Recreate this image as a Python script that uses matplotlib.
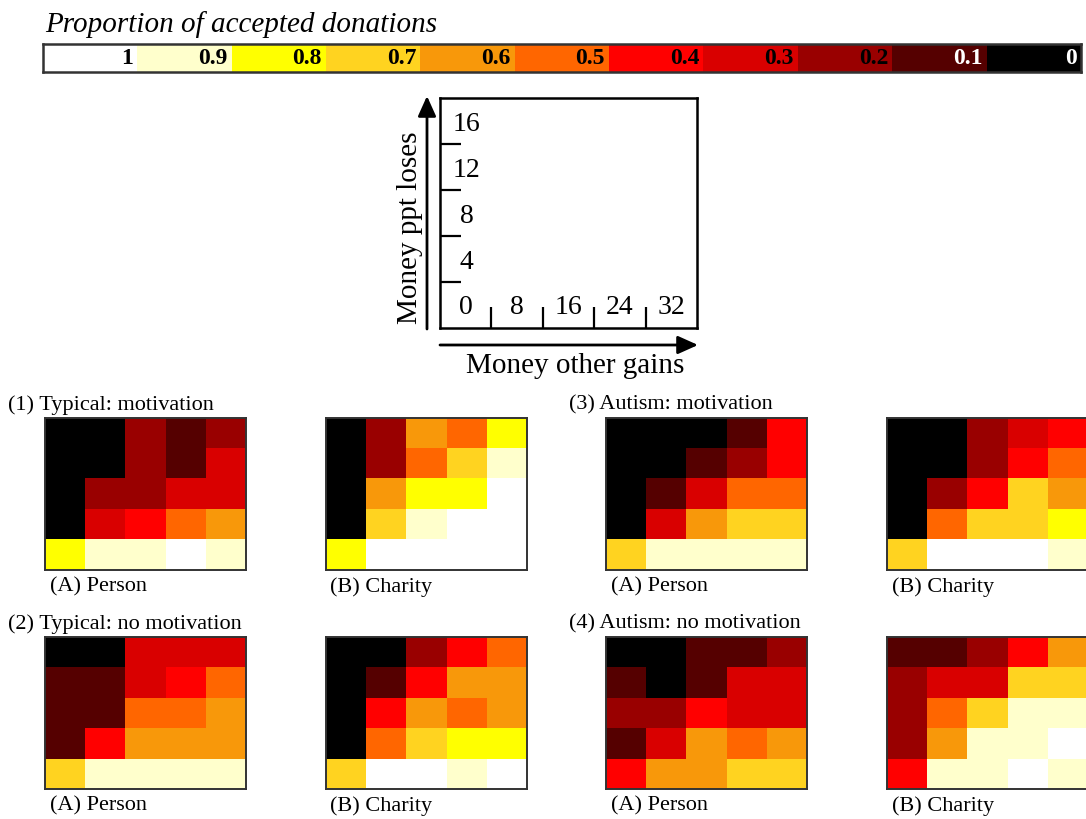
import numpy as np
import matplotlib
matplotlib.use("Agg")
import matplotlib.pyplot as plt
from matplotlib.colors import ListedColormap, BoundaryNorm
from matplotlib.patches import FancyArrowPatch

# --- colour scale (proportion of accepted donations) ---
levels = [0, 0.1, 0.2, 0.3, 0.4, 0.5, 0.6, 0.7, 0.8, 0.9, 1]
level_colors = ["#000000", "#550000", "#990000", "#d90000", "#ff0000", "#ff6600",
                "#f8980a", "#ffd320", "#ffff00", "#ffffcc", "#ffffff"]
bar_labels = ["1", "0.9", "0.8", "0.7", "0.6", "0.5", "0.4", "0.3", "0.2", "0.1", "0"]

# axis schema
gains_ticks = ["0", "8", "16", "24", "32"]
loses_ticks = ["0", "4", "8", "12", "16"]

# --- proportions, rows = money ppt loses (16 at top ... 0 at bottom),
#     cols = money other gains (0 ... 32) ---
typ_mot_person = [[0, 0, 0.2, 0.1, 0.2],
                  [0, 0, 0.2, 0.1, 0.3],
                  [0, 0.2, 0.2, 0.3, 0.3],
                  [0, 0.3, 0.4, 0.5, 0.6],
                  [0.8, 0.9, 0.9, 1, 0.9]]
typ_mot_charity = [[0, 0.2, 0.6, 0.5, 0.8],
                   [0, 0.2, 0.5, 0.7, 0.9],
                   [0, 0.6, 0.8, 0.8, 1],
                   [0, 0.7, 0.9, 1, 1],
                   [0.8, 1, 1, 1, 1]]
typ_nomot_person = [[0, 0, 0.3, 0.3, 0.3],
                    [0.1, 0.1, 0.3, 0.4, 0.5],
                    [0.1, 0.1, 0.5, 0.5, 0.6],
                    [0.1, 0.4, 0.6, 0.6, 0.6],
                    [0.7, 0.9, 0.9, 0.9, 0.9]]
typ_nomot_charity = [[0, 0, 0.2, 0.4, 0.5],
                     [0, 0.1, 0.4, 0.6, 0.6],
                     [0, 0.4, 0.6, 0.5, 0.6],
                     [0, 0.5, 0.7, 0.8, 0.8],
                     [0.7, 1, 1, 0.9, 1]]
aut_mot_person = [[0, 0, 0, 0.1, 0.4],
                  [0, 0, 0.1, 0.2, 0.4],
                  [0, 0.1, 0.3, 0.5, 0.5],
                  [0, 0.3, 0.6, 0.7, 0.7],
                  [0.7, 0.9, 0.9, 0.9, 0.9]]
aut_mot_charity = [[0, 0, 0.2, 0.3, 0.4],
                   [0, 0, 0.2, 0.4, 0.5],
                   [0, 0.2, 0.4, 0.7, 0.6],
                   [0, 0.5, 0.7, 0.7, 0.8],
                   [0.7, 1, 1, 1, 0.9]]
aut_nomot_person = [[0, 0, 0.1, 0.1, 0.2],
                    [0.1, 0, 0.1, 0.3, 0.3],
                    [0.2, 0.2, 0.4, 0.3, 0.3],
                    [0.1, 0.3, 0.6, 0.5, 0.6],
                    [0.4, 0.6, 0.6, 0.7, 0.7]]
aut_nomot_charity = [[0.1, 0.1, 0.2, 0.4, 0.6],
                     [0.2, 0.3, 0.3, 0.7, 0.7],
                     [0.2, 0.5, 0.7, 0.9, 0.9],
                     [0.2, 0.6, 0.9, 0.9, 1],
                     [0.4, 0.9, 0.9, 1, 0.9]]

panel_titles = ["(1) Typical: motivation", "(3) Autism: motivation",
                "(2) Typical: no motivation", "(4) Autism: no motivation"]

plt.rcParams["font.family"] = ["Liberation Serif", "DejaVu Serif"]

W, H = 1086, 819
fig = plt.figure(figsize=(W / 100, H / 100), dpi=100)

cmap = ListedColormap(level_colors)
norm = BoundaryNorm(np.arange(-0.05, 1.1, 0.1), cmap.N)


def px_axes(x0, y0, x1, y1):
    return fig.add_axes([x0 / W, 1 - y1 / H, (x1 - x0) / W, (y1 - y0) / H])


def px_text(x, y, s, **kw):
    fig.text(x / W, 1 - y / H, s, **kw)


def px_arrow(x0, y0, x1, y1):
    fig.add_artist(FancyArrowPatch(
        (x0 / W, 1 - y0 / H), (x1 / W, 1 - y1 / H), transform=fig.transFigure,
        arrowstyle="-|>,head_length=4.9,head_width=2.2", linewidth=2.0,
        color="black", mutation_scale=2.5, shrinkA=0, shrinkB=0))


# --- colour bar ---
bar = px_axes(43, 44, 1081, 72)
bar_vals = np.array(levels[::-1])[None, :]
bar.imshow(bar_vals, cmap=cmap, norm=norm, aspect="auto",
           extent=(0, 11, 0, 1), interpolation="nearest")
for i, lab in enumerate(bar_labels):
    col = "white" if lab in ("0.1", "0") else "black"
    bar.text(i + 0.955, 0.47, lab, ha="right", va="center", fontsize=17,
             fontweight="bold", color=col)
bar.set_xticks([])
bar.set_yticks([])
for sp in bar.spines.values():
    sp.set_linewidth(1.8)
    sp.set_color("#333333")
px_text(45, 25, "Proportion of accepted donations", fontsize=21, style="italic",
        ha="left", va="center")

# --- axis schema ---
sch = px_axes(440, 98, 697, 328)
sch.set_xlim(0, 5)
sch.set_ylim(0, 5)
sch.set_xticks([1, 2, 3, 4])
sch.set_yticks([1, 2, 3, 4])
sch.set_xticklabels([])
sch.set_yticklabels([])
sch.tick_params(direction="in", length=15, width=1.6, colors="black")
for sp in sch.spines.values():
    sp.set_linewidth(1.8)
for i, lab in enumerate(gains_ticks):
    sch.text(i + 0.5, 0.45, lab, ha="center", va="center", fontsize=20)
for i, lab in enumerate(loses_ticks[1:], start=1):
    sch.text(0.52, i + 0.42, lab, ha="center", va="center", fontsize=20)

px_arrow(427, 329, 427, 96)
px_arrow(440, 345, 698, 345)
px_text(410, 228, "Money ppt loses", fontsize=21, rotation=90, ha="center", va="center")
px_text(575, 366, "Money other gains", fontsize=21, ha="center", va="center")

# --- heat maps ---
panels = [
    (typ_mot_person, typ_mot_charity),
    (aut_mot_person, aut_mot_charity),
    (typ_nomot_person, typ_nomot_charity),
    (aut_nomot_person, aut_nomot_charity),
]
block_x = [0, 561]
block_y = [418, 637]

for k, (person, charity) in enumerate(panels):
    bx = block_x[k % 2]
    by = block_y[k // 2]
    px_text(bx + 8, by - 13, panel_titles[k], fontsize=16, ha="left", va="center")
    for j, (data, lab) in enumerate([(person, "(A) Person"), (charity, "(B) Charity")]):
        x0 = bx + 45 + j * 280.5
        ax = px_axes(x0, by, x0 + 201, by + 152)
        ax.imshow(np.array(data), cmap=cmap, norm=norm, aspect="auto",
                  interpolation="nearest", extent=(0, 5, 0, 5))
        ax.set_xticks([])
        ax.set_yticks([])
        for sp in ax.spines.values():
            sp.set_linewidth(1.4)
            sp.set_color("#333333")
        px_text(x0 + 5, by + 169, lab, fontsize=16, ha="left", va="center")

fig.savefig("out.png", dpi=100)
